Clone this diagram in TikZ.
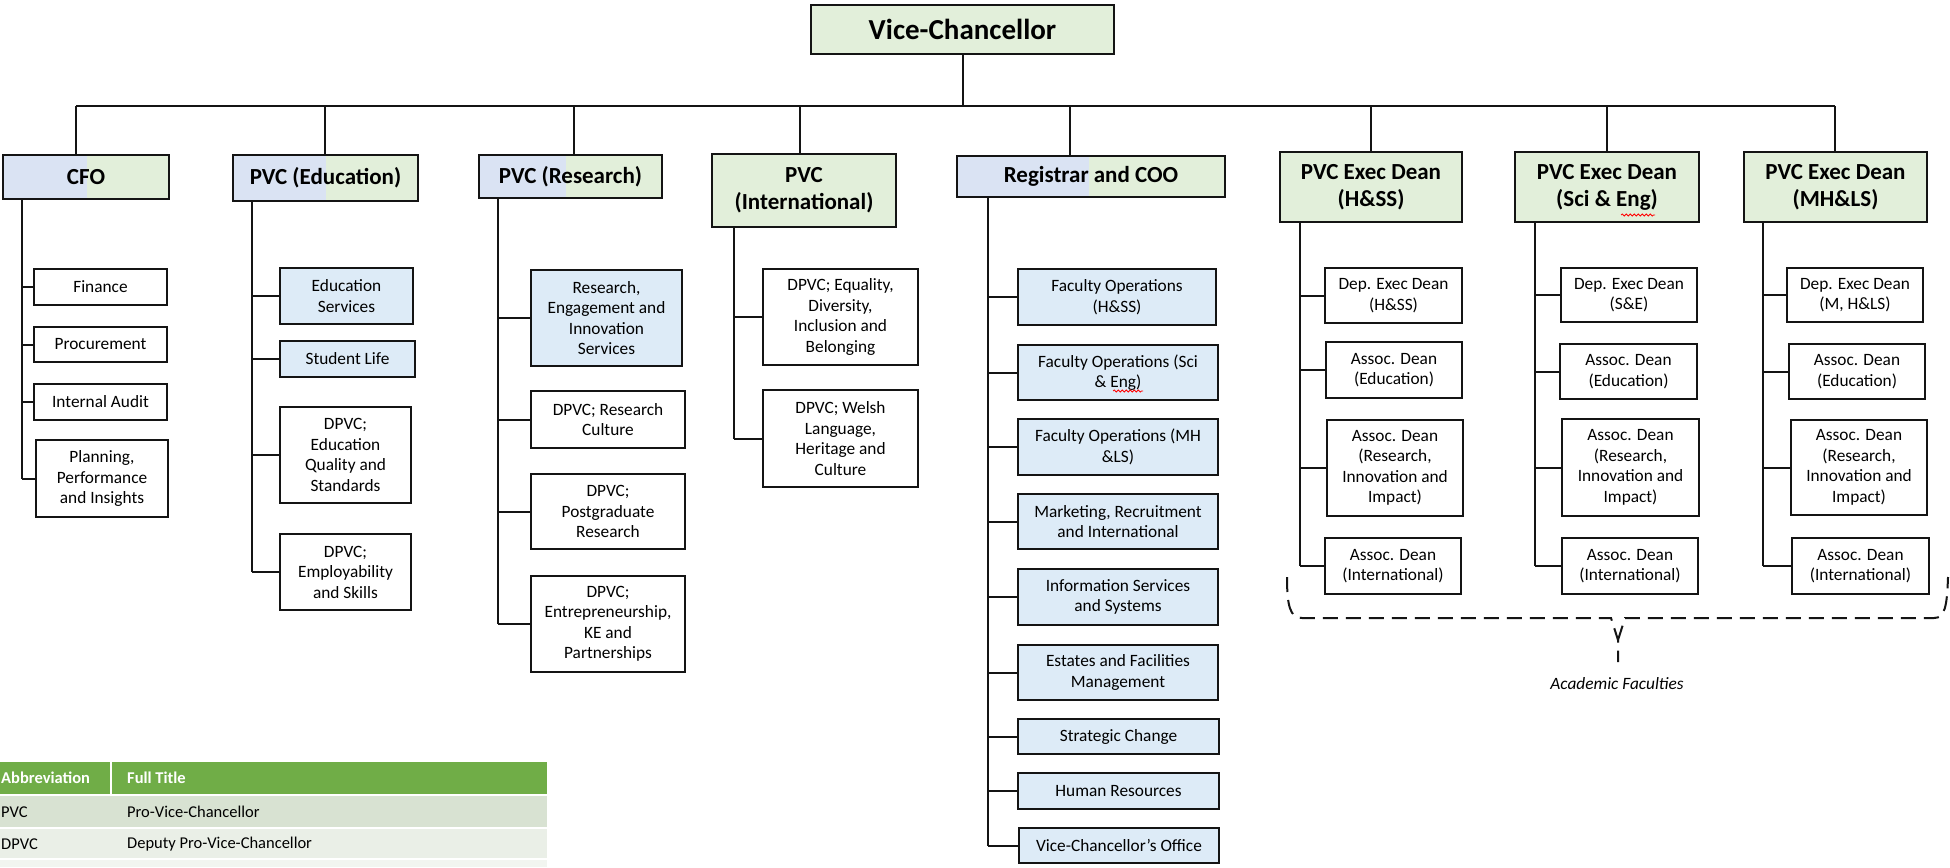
\documentclass[tikz,border=0pt]{standalone}
\usepackage{fontspec}
\setmainfont{Carlito}
\usetikzlibrary{decorations.pathmorphing}
\definecolor{gfill}{RGB}{226,239,218}
\definecolor{lfill}{RGB}{218,227,243}
\definecolor{bfill}{RGB}{221,235,247}
\definecolor{thead}{RGB}{112,173,71}
\definecolor{trowa}{RGB}{216,226,210}
\definecolor{trowb}{RGB}{234,239,231}
\definecolor{trowc}{RGB}{242,245,240}
\definecolor{ink}{RGB}{20,20,20}
\newcommand\bx[7]{%
  \node[#6, minimum width={#4-#2}, minimum height={#5-#3}] (#1) at ({(#2+#4)/2},{(#3+#5)/2}) {#7};}
\newcommand\sbx[7]{%
  \fill[lfill] (#2,#3) rectangle (#6,#5);
  \fill[gfill] (#6,#3) rectangle (#4,#5);
  \bx{#1}{#2}{#3}{#4}{#5}{head}{#7}}
\begin{document}
\begin{tikzpicture}[x=1pt,y=-1pt,
  head/.style={draw=ink, line width=1.8pt, inner sep=0pt, outer sep=0pt, align=center,
     font=\fontsize{23}{27}\selectfont\bfseries},
  hgreen/.style={head, fill=gfill},
  top/.style={hgreen, font=\fontsize{29}{33}\selectfont\bfseries},
  sub/.style={draw=ink, line width=1.8pt, inner sep=0pt, outer sep=0pt, align=center,
     font=\fontsize{17.3}{20.5}\selectfont},
  subb/.style={sub, fill=bfill},
  link/.style={draw=ink, line width=2pt},
  tabtxt/.style={anchor=west, inner sep=0pt, font=\fontsize{16.5}{19}\selectfont},
  tabhd/.style={tabtxt, text=white, font=\fontsize{16.5}{19}\selectfont\bfseries},
  brace/.style={draw=ink, line width=2pt, dash pattern=on 15pt off 8pt},
  squig/.style={draw=red, line width=0.8pt, decorate, decoration={snake, amplitude=1pt, segment length=4pt}}
]
\useasboundingbox (0,0) rectangle (1950,867);
\fill[white] (0,0) rectangle (1950,867);

% ---------- top ----------
\bx{vc}{811}{5}{1114}{54}{top}{Vice-Chancellor}

% ---------- level 2 ----------
\sbx{cfo}{3}{155}{169}{199}{87}{CFO}
\sbx{ped}{233}{155}{418}{201}{326}{PVC (Education)}
\sbx{pres}{479}{155}{662}{198}{566}{PVC (Research)}
\bx{pint}{712}{154}{896}{227}{hgreen}{PVC\\(International)}
\sbx{reg}{957}{156}{1225}{197}{1089}{Registrar and COO}
\bx{dhss}{1280}{152}{1462}{222}{hgreen}{PVC Exec Dean\\(H\&SS)}
\bx{dse}{1515}{152}{1699}{222}{hgreen}{PVC Exec Dean\\(Sci \& Eng)}
\bx{dmh}{1744}{152}{1927}{222}{hgreen}{PVC Exec Dean\\(MH\&LS)}

% bus
\coordinate (b1) at (76,106);
\coordinate (b2) at (325,106);
\coordinate (b3) at (574,106);
\coordinate (b4) at (800,106);
\coordinate (b5) at (1070,106);
\coordinate (b6) at (1371,106);
\coordinate (b7) at (1607,106);
\coordinate (b8) at (1835,106);
\draw[link] (vc.south) -- (vc.south |- b1);
\draw[link] (b1) -- (b8);
\foreach \c/\n in {b1/cfo,b2/ped,b3/pres,b4/pint,b5/reg,b6/dhss,b7/dse,b8/dmh}
  \draw[link] (\c) -- (\c |- \n.north);

% ---------- CFO column ----------
\bx{fin}{34}{269}{167}{305}{sub}{Finance}
\bx{proc}{34}{327}{167}{362}{sub}{Procurement}
\bx{aud}{34}{384}{167}{420}{sub}{Internal Audit}
\bx{plan}{36}{440}{168}{517}{sub}{Planning,\\Performance\\and Insights}
\coordinate (l1) at (22,199);
\draw[link] (l1) -- (l1 |- plan.west);
\foreach \n in {fin,proc,aud,plan} \draw[link] (\n.west) -- (\n.west -| l1);

% ---------- Education column ----------
\bx{edsv}{280}{268}{413}{324}{subb}{Education\\Services}
\bx{stl}{280}{341}{415}{377}{subb}{Student Life}
\bx{eqs}{280}{407}{411}{503}{sub}{DPVC;\\Education\\Quality and\\Standards}
\bx{emp}{280}{534}{411}{610}{sub}{DPVC;\\Employability\\and Skills}
\coordinate (l2) at (252,201);
\draw[link] (l2) -- (l2 |- emp.west);
\foreach \n in {edsv,stl,eqs,emp} \draw[link] (\n.west) -- (\n.west -| l2);

% ---------- Research column ----------
\bx{reis}{531}{270}{682}{366}{subb}{Research,\\Engagement and\\Innovation\\Services}
\bx{rcul}{531}{391}{685}{448}{sub}{DPVC; Research\\Culture}
\bx{pgr}{531}{474}{685}{549}{sub}{DPVC;\\Postgraduate\\Research}
\bx{ent}{531}{576}{685}{672}{sub}{DPVC;\\Entrepreneurship,\\KE and\\Partnerships}
\coordinate (l3) at (498,198);
\draw[link] (l3) -- (l3 |- ent.west);
\foreach \n in {reis,rcul,pgr,ent} \draw[link] (\n.west) -- (\n.west -| l3);

% ---------- International column ----------
\bx{edib}{763}{269}{918}{365}{sub}{DPVC; Equality,\\Diversity,\\Inclusion and\\Belonging}
\bx{wel}{763}{390}{918}{487}{sub}{DPVC; Welsh\\Language,\\Heritage and\\Culture}
\coordinate (l4) at (734,227);
\draw[link] (l4) -- (l4 |- wel.west);
\foreach \n in {edib,wel} \draw[link] (\n.west) -- (\n.west -| l4);

% ---------- Registrar column ----------
\bx{fo1}{1018}{269}{1216}{325}{subb}{Faculty Operations\\(H\&SS)}
\bx{fo2}{1018}{345}{1218}{400}{subb}{Faculty Operations (Sci\\\& Eng)}
\bx{fo3}{1018}{419}{1218}{475}{subb}{Faculty Operations (MH\\\&LS)}
\bx{mri}{1018}{494}{1218}{549}{subb}{Marketing, Recruitment\\and International}
\bx{iss}{1018}{569}{1218}{625}{subb}{Information Services\\and Systems}
\bx{efm}{1018}{645}{1218}{700}{subb}{Estates and Facilities\\Management}
\bx{stc}{1018}{719}{1219}{754}{subb}{Strategic Change}
\bx{hr}{1018}{773}{1219}{809}{subb}{Human Resources}
\bx{vco}{1019}{828}{1219}{863}{subb}{Vice-Chancellor’s Office}
\coordinate (l5) at (988,197);
\draw[link] (l5) -- (l5 |- vco.west);
\foreach \n in {fo1,fo2,fo3,mri,iss,efm,stc,hr,vco} \draw[link] (\n.west) -- (\n.west -| l5);

% ---------- H&SS column ----------
\bx{h1}{1325}{268}{1462}{323}{sub}{Dep. Exec Dean\\(H\&SS)}
\bx{h2}{1326}{342}{1462}{398}{sub}{Assoc. Dean\\(Education)}
\bx{h3}{1327}{420}{1463}{516}{sub}{Assoc. Dean\\(Research,\\Innovation and\\Impact)}
\bx{h4}{1325}{538}{1461}{594}{sub}{Assoc. Dean\\(International)}
\coordinate (l6) at (1300,222);
\draw[link] (l6) -- (l6 |- h4.west);
\foreach \n in {h1,h2,h3,h4} \draw[link] (\n.west) -- (\n.west -| l6);

% ---------- S&E column ----------
\bx{s1}{1561}{268}{1697}{322}{sub}{Dep. Exec Dean\\(S\&E)}
\bx{s2}{1560}{344}{1697}{399}{sub}{Assoc. Dean\\(Education)}
\bx{s3}{1562}{419}{1699}{516}{sub}{Assoc. Dean\\(Research,\\Innovation and\\Impact)}
\bx{s4}{1562}{538}{1698}{594}{sub}{Assoc. Dean\\(International)}
\coordinate (l7) at (1535,222);
\draw[link] (l7) -- (l7 |- s4.west);
\foreach \n in {s1,s2,s3,s4} \draw[link] (\n.west) -- (\n.west -| l7);

% ---------- MH&LS column ----------
\bx{m1}{1787}{268}{1923}{322}{sub}{Dep. Exec Dean\\(M, H\&LS)}
\bx{m2}{1789}{344}{1925}{399}{sub}{Assoc. Dean\\(Education)}
\bx{m3}{1791}{420}{1927}{515}{sub}{Assoc. Dean\\(Research,\\Innovation and\\Impact)}
\bx{m4}{1792}{538}{1929}{594}{sub}{Assoc. Dean\\(International)}
\coordinate (l8) at (1763,222);
\draw[link] (l8) -- (l8 |- m4.west);
\foreach \n in {m1,m2,m3,m4} \draw[link] (\n.west) -- (\n.west -| l8);

% ---------- brace ----------
\draw[brace] (1287,577) .. controls (1287,606) and (1290,618) .. (1302,618) -- (1611,618) -- (1618,640) -- (1618,662);
\draw[brace] (1618,640) -- (1625,618) -- (1934,618) .. controls (1945,618) and (1947,606) .. (1948,577);
\node[font=\fontsize{17.3}{20}\selectfont\itshape, inner sep=0pt] (acf) at (1617,684) {Academic Faculties};

% spell-check marks
\draw[squig] (1621,215) -- (1655,215);
\draw[squig] (1113,391) -- (1143,391);

% ---------- table ----------
\fill[thead] (0,762) rectangle (547,794);
\fill[trowa] (0,796) rectangle (547,827);
\fill[trowb] (0,829) rectangle (547,858);
\fill[trowc] (0,860) rectangle (547,867);
\draw[white, line width=2pt] (111,762) -- (111,794);
\node[tabhd] (th1) at (1,778) {Abbreviation};
\node[tabhd] (th2) at (127,778) {Full Title};
\node[tabtxt] (r1a) at (1,812) {PVC};
\node[tabtxt] (r1b) at (127,812) {Pro-Vice-Chancellor};
\node[tabtxt] (r2a) at (1,844) {DPVC};
\node[tabtxt] (r2b) at (127,844) {Deputy Pro-Vice-Chancellor};
\end{tikzpicture}
\end{document}
